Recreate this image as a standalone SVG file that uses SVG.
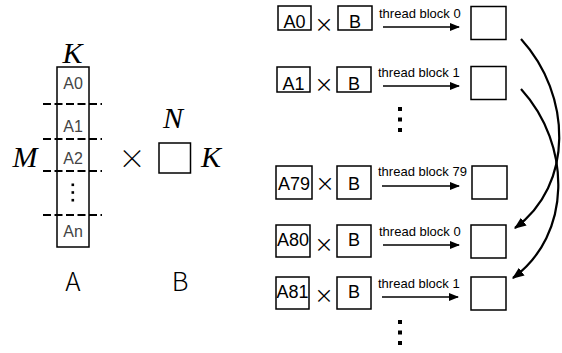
<svg xmlns="http://www.w3.org/2000/svg" width="562" height="353" viewBox="0 0 562 353">
  <defs>
    <style>
      .box { fill: #fff; stroke: #000; stroke-width: 1.5; }
      .dash { stroke: #000; stroke-width: 2; stroke-dasharray: 8 3.5; fill: none; }
      .math { font-family: "Liberation Serif", "DejaVu Serif", serif; font-style: italic; font-size: 30px; fill: #000; text-anchor: middle; }
      .lbl { font-family: "Liberation Sans", Arial, sans-serif; font-size: 16px; fill: #444; text-anchor: middle; }
      .cell { font-family: "Liberation Sans", Arial, sans-serif; font-size: 18px; fill: #000; text-anchor: middle; }
      .big { font-family: "Noto Sans CJK SC", "Liberation Sans", sans-serif; font-weight: 300; font-size: 26px; fill: #000; text-anchor: middle; }
      .times { font-family: "Noto Sans CJK SC", "Liberation Sans", sans-serif; font-weight: 400; font-size: 19px; fill: #000; text-anchor: middle; }
      .times-lg { font-family: "Noto Sans CJK SC", "Liberation Sans", sans-serif; font-weight: 300; font-size: 27px; fill: #000; text-anchor: middle; }
      .tb { font-family: "Liberation Sans", Arial, sans-serif; font-size: 13px; fill: #000; }
      .arrow { stroke: #000; stroke-width: 1.5; fill: none; marker-end: url(#head); }
      .curve { stroke: #000; stroke-width: 2.2; fill: none; marker-end: url(#head2); }
      .dot { fill: #000; }
    </style>
    <marker id="head" viewBox="0 0 10 8" refX="9" refY="4" markerWidth="10" markerHeight="8" markerUnits="userSpaceOnUse" orient="auto">
      <path d="M0,0 L10,4 L0,8 Z" fill="#000"/>
    </marker>
    <marker id="head2" viewBox="0 0 10 8" refX="9" refY="4" markerWidth="12" markerHeight="10" markerUnits="userSpaceOnUse" orient="auto">
      <path d="M0,0 L10,4 L0,8 Z" fill="#000"/>
    </marker>
  </defs>

  <!-- Matrix A split into row blocks -->
  <g id="matrix-a">
    <text class="math" x="72.5" y="63">K</text>
    <text class="math" x="25" y="167">M</text>
    <rect class="box" x="57" y="67" width="32" height="180"/>
    <line class="dash" x1="43" y1="104" x2="102" y2="104"/>
    <line class="dash" x1="43" y1="139" x2="102" y2="139"/>
    <line class="dash" x1="43" y1="171" x2="102" y2="171"/>
    <line class="dash" x1="43" y1="215" x2="102" y2="215"/>
    <text class="lbl" x="73" y="88.5">A0</text>
    <text class="lbl" x="73" y="131.5">A1</text>
    <text class="lbl" x="73" y="163.5">A2</text>
    <rect class="dot" x="71.5" y="183.5" width="2.6" height="2.6"/>
    <rect class="dot" x="71.5" y="191.2" width="2.6" height="2.6"/>
    <rect class="dot" x="71.5" y="198.9" width="2.6" height="2.6"/>
    <text class="lbl" x="73" y="237">An</text>
    <text class="big" x="73" y="291">A</text>
  </g>

  <g id="times-ab">
    <text class="times-lg" x="132" y="168.5">×</text>
  </g>

  <!-- Matrix B -->
  <g id="matrix-b">
    <text class="math" x="173" y="128">N</text>
    <rect class="box" x="159" y="143" width="31.5" height="30"/>
    <text class="math" x="211" y="167">K</text>
    <text class="big" x="180" y="291">B</text>
  </g>

  <!-- Row 0 -->
  <g id="row-a0">
    <rect class="box" x="278" y="6" width="33" height="24"/>
    <text class="cell" x="294.5" y="28">A0</text>
    <text class="times" x="324" y="32">×</text>
    <rect class="box" x="338" y="6" width="34" height="24"/>
    <text class="cell" x="355" y="28">B</text>
    <text class="tb" x="379" y="18">thread block 0</text>
    <rect class="box" x="471" y="6.5" width="35" height="33"/>
  </g>

  <!-- Row 1 -->
  <g id="row-a1">
    <rect class="box" x="277" y="67" width="33" height="25"/>
    <text class="cell" x="293.5" y="89.5">A1</text>
    <text class="times" x="324" y="92">×</text>
    <rect class="box" x="337" y="67" width="34" height="25"/>
    <text class="cell" x="354" y="89.5">B</text>
    <text class="tb" x="378" y="77">thread block 1</text>
    <rect class="box" x="471" y="66.5" width="35" height="33"/>
  </g>

  <g id="dots-mid">
    <rect class="dot" x="398" y="107" width="4" height="4"/>
    <rect class="dot" x="398" y="117.5" width="4" height="4"/>
    <rect class="dot" x="398" y="128" width="4" height="4"/>
  </g>

  <!-- Row 79 -->
  <g id="row-a79">
    <rect class="box" x="276" y="166" width="36" height="33"/>
    <text class="cell" x="294" y="190">A79</text>
    <text class="times" x="325" y="191">×</text>
    <rect class="box" x="337" y="166" width="34" height="33"/>
    <text class="cell" x="354" y="190">B</text>
    <text class="tb" x="378" y="176">thread block 79</text>
    <rect class="box" x="472" y="166" width="35" height="33"/>
  </g>

  <!-- Row 80 -->
  <g id="row-a80">
    <rect class="box" x="276" y="225" width="34" height="32"/>
    <text class="cell" x="293" y="246">A80</text>
    <text class="times" x="324" y="252">×</text>
    <rect class="box" x="337" y="225" width="34" height="32"/>
    <text class="cell" x="354" y="246">B</text>
    <text class="tb" x="379" y="236">thread block 0</text>
    <rect class="box" x="471" y="225" width="35" height="33"/>
  </g>

  <!-- Row 81 -->
  <g id="row-a81">
    <rect class="box" x="276" y="277" width="33" height="32"/>
    <text class="cell" x="292.5" y="298">A81</text>
    <text class="times" x="324" y="303">×</text>
    <rect class="box" x="337" y="277" width="34" height="32"/>
    <text class="cell" x="354" y="298">B</text>
    <text class="tb" x="378" y="288">thread block 1</text>
    <rect class="box" x="471" y="277" width="35" height="33"/>
  </g>

  <g id="dots-bottom">
    <rect class="dot" x="398" y="320" width="4" height="4"/>
    <rect class="dot" x="398" y="330.5" width="4" height="4"/>
    <rect class="dot" x="398" y="341" width="4" height="4"/>
  </g>

  <!-- Connectors -->
  <g id="connectors">
    <line class="arrow" x1="383" y1="27" x2="459" y2="27"/>
    <line class="arrow" x1="383" y1="86" x2="459" y2="86"/>
    <line class="arrow" x1="382" y1="186" x2="459" y2="186"/>
    <line class="arrow" x1="383" y1="245" x2="459" y2="245"/>
    <line class="arrow" x1="382" y1="297" x2="458" y2="297"/>
    <path class="curve" d="M521,39 C572,95 574,185 515,228"/>
    <path class="curve" d="M521,89 C572,145 572,235 513,278"/>
  </g>
</svg>
